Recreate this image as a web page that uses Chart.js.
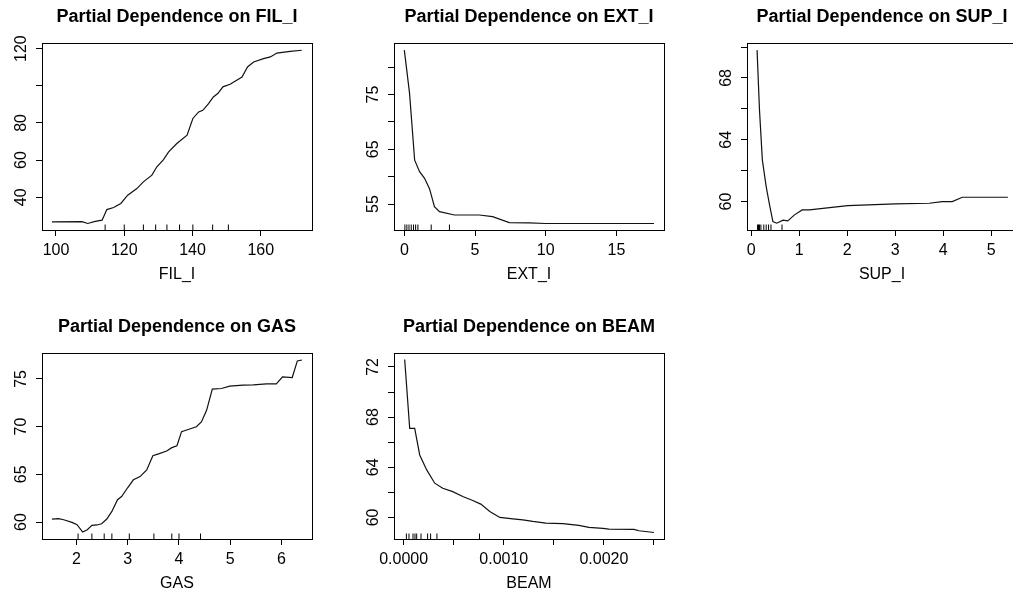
<!DOCTYPE html>
<html>
<head>
<meta charset="utf-8">
<script src="https://cdn.jsdelivr.net/npm/chart.js@4.4.1/dist/chart.umd.min.js"></script>
<style>
  html, body { margin: 0; padding: 0; background: #fff; width: 1013px; height: 595px; overflow: hidden; }
  canvas { position: absolute; }
</style>
</head>
<body>
<canvas id="c1" width="340" height="297" style="left:0px;top:0px"></canvas>
<canvas id="c2" width="340" height="297" style="left:352px;top:0px"></canvas>
<canvas id="c3" width="340" height="297" style="left:705px;top:0px"></canvas>
<canvas id="c4" width="340" height="285" style="left:0px;top:310px"></canvas>
<canvas id="c5" width="340" height="285" style="left:352px;top:310px"></canvas>
<script>
// FIL_I
let filX = [98.8, 107.6, 109.3, 111.5, 113.5, 114.9, 116.9, 119.0, 121.0, 123.7, 125.6, 128.1, 129.5, 131.5, 133.0, 135.4, 138.4, 140.1, 141.8, 143.0, 144.7, 146.1, 147.4, 148.9, 151.0, 154.5, 156.1, 157.9, 160.8, 162.8, 164.7, 168.6, 172.0];
let filY = [26.8, 26.9, 25.9, 27.0, 27.7, 33.4, 34.5, 36.7, 41.1, 44.7, 48.3, 51.9, 56.3, 60.3, 64.4, 68.9, 73.4, 82.4, 85.9, 86.8, 90.4, 94.0, 95.8, 99.4, 100.8, 104.7, 110.1, 112.8, 114.6, 115.5, 117.6, 118.5, 119.1];
let filRug = [114.4, 120.0, 125.6, 129.2, 132.5, 136.2, 140.1, 145.9, 150.5];
let filXTicks = [100, 120, 140, 160];
let filXLabels = ["100", "120", "140", "160"];
let filYTicks = [40, 60, 80, 100, 120];
let filYLabels = ["40", "60", "80", "", "120"];

// EXT_I
let extX = [0, 0.37, 0.73, 1.08, 1.43, 1.78, 2.13, 2.49, 3.54, 5.3, 6.24, 7.42, 8.82, 10.0, 17.65];
let extY = [83.1, 75.2, 63.0, 60.9, 59.7, 57.8, 54.5, 53.6, 53.0, 53.0, 52.7, 51.6, 51.56, 51.45, 51.45];
let extRug = [0.04, 0.18, 0.33, 0.49, 0.65, 0.8, 0.96, 1.9, 3.19];
let extXTicks = [0, 5, 10, 15];
let extXLabels = ["0", "5", "10", "15"];
let extYTicks = [55, 60, 65, 70, 75, 80];
let extYLabels = ["55", "", "65", "", "75", ""];

// SUP_I
let supX = [0.12, 0.17, 0.23, 0.31, 0.38, 0.45, 0.53, 0.66, 0.76, 0.9, 1.06, 1.21, 2.01, 3.01, 3.71, 3.98, 4.19, 4.40, 5.35];
let supY = [69.8, 65.95, 62.7, 60.97, 59.79, 58.7, 58.6, 58.8, 58.75, 59.14, 59.46, 59.46, 59.74, 59.85, 59.89, 60.0, 60.0, 60.28, 60.28];
let supRug = [0.13, 0.15, 0.17, 0.2, 0.26, 0.31, 0.36, 0.41, 0.64];
let supXTicks = [0, 1, 2, 3, 4, 5];
let supXLabels = ["0", "1", "2", "3", "4", "5"];
let supYTicks = [60, 62, 64, 66, 68, 70];
let supYLabels = ["60", "", "64", "", "68", ""];

// GAS
let gasX = [1.52, 1.65, 1.75, 1.91, 2.01, 2.12, 2.21, 2.30, 2.40, 2.49, 2.59, 2.69, 2.80, 2.88, 3.0, 3.11, 3.24, 3.37, 3.49, 3.60, 3.76, 3.86, 3.96, 4.05, 4.18, 4.34, 4.44, 4.54, 4.65, 4.83, 4.99, 5.25, 5.45, 5.71, 5.90, 6.02, 6.21, 6.31, 6.40];
let gasY = [60.32, 60.36, 60.25, 59.97, 59.73, 58.96, 59.2, 59.66, 59.7, 59.83, 60.32, 61.12, 62.34, 62.68, 63.62, 64.43, 64.77, 65.47, 66.96, 67.14, 67.45, 67.8, 68.0, 69.47, 69.7, 69.99, 70.51, 71.73, 73.92, 73.99, 74.24, 74.34, 74.38, 74.48, 74.48, 75.21, 75.14, 76.88, 76.98];
let gasRug = [2.03, 2.30, 2.54, 2.69, 3.03, 3.51, 3.86, 4.0, 4.42];
let gasXTicks = [2, 3, 4, 5, 6];
let gasXLabels = ["2", "3", "4", "5", "6"];
let gasYTicks = [60, 65, 70, 75];
let gasYLabels = ["60", "65", "70", "75"];

// BEAM
let beamX = [0.00001, 0.00006, 0.00011, 0.00016, 0.00023, 0.00031, 0.00039, 0.00049, 0.00059, 0.00069, 0.00077, 0.00086, 0.00096, 0.00109, 0.00119, 0.00129, 0.00142, 0.00159, 0.00175, 0.00185, 0.00199, 0.00205, 0.0023, 0.00235, 0.0025];
let beamY = [72.59, 67.1, 67.1, 64.98, 63.79, 62.73, 62.33, 62.06, 61.67, 61.35, 61.06, 60.47, 60.0, 59.89, 59.81, 59.68, 59.55, 59.5, 59.36, 59.2, 59.12, 59.06, 59.04, 58.94, 58.8];
let beamRug = [0.000027, 0.000053, 0.000093, 0.000113, 0.00013, 0.000173, 0.000239, 0.000269, 0.000332, 0.000757];
let beamXTicks = [0, 0.0005, 0.001, 0.0015, 0.002, 0.0025];
let beamXLabels = ["0.0000", "", "0.0010", "", "0.0020", ""];
let beamYTicks = [60, 62, 64, 66, 68, 70, 72];
let beamYLabels = ["60", "", "64", "", "68", "", "72"];

Chart.defaults.font.family = "'Liberation Sans', Arial, Helvetica, sans-serif";
Chart.defaults.color = "#000";

// draws the full R-style box around the plot region
const boxPlugin = {
  id: "box",
  afterDraw(chart) {
    const a = chart.chartArea;
    const ctx = chart.ctx;
    ctx.save();
    ctx.strokeStyle = "#000";
    ctx.lineWidth = 1;
    ctx.strokeRect(Math.round(a.left) + 0.5, Math.round(a.top) + 0.5, Math.round(a.right - a.left), Math.round(a.bottom - a.top));
    ctx.restore();
  }
};

function makeChart(id, name, xs, ys, rug, xRange, yRange, xTicks, xLabels, yTicks, yLabels, yPad, bottomPad) {
  const line = xs.map((x, i) => ({ x: x, y: ys[i] }));
  const rugPts = rug.map((x) => ({ x: x, y: yRange[0] }));

  new Chart(document.getElementById(id), {
    type: "scatter",
    data: {
      datasets: [
        {
          type: "line",
          data: line,
          borderColor: "#111",
          borderWidth: 1.2,
          pointRadius: 0,
          tension: 0,
          fill: false
        },
        {
          data: rugPts,
          pointStyle: "line",
          rotation: 90,
          radius: 5.5,
          borderColor: "#000",
          borderWidth: 1,
          clip: 0
        }
      ]
    },
    options: {
      responsive: false,
      animation: false,
      events: [],
      layout: { padding: { left: 0, top: 0, right: 28, bottom: bottomPad } },
      plugins: {
        legend: { display: false },
        tooltip: { enabled: false },
        title: {
          display: true,
          text: "Partial Dependence on " + name,
          fullSize: false,
          font: { size: 18, weight: "bold" },
          color: "#000",
          padding: { top: 5.8, bottom: 15.6 }
        }
      },
      scales: {
        x: {
          type: "linear",
          min: xRange[0],
          max: xRange[1],
          afterBuildTicks: (axis) => { axis.ticks = xTicks.map((v) => ({ value: v })); },
          afterFit: (axis) => { axis.height = 54; },
          grid: { drawOnChartArea: false, drawTicks: true, tickLength: 6, color: "#000" },
          border: { display: true, color: "#000" },
          ticks: {
            autoSkip: false,
            maxRotation: 0,
            padding: 5,
            font: { size: 16 },
            color: "#000",
            callback: (v, i) => xLabels[i]
          },
          title: { display: true, text: name, font: { size: 16 }, color: "#000", padding: { top: 0, bottom: 0 } }
        },
        y: {
          type: "linear",
          min: yRange[0],
          max: yRange[1],
          afterBuildTicks: (axis) => { axis.ticks = yTicks.map((v) => ({ value: v })); },
          afterFit: (axis) => { axis.width = 42; },
          grid: { drawOnChartArea: false, drawTicks: true, tickLength: 6, color: "#000" },
          border: { display: true, color: "#000" },
          ticks: {
            autoSkip: false,
            minRotation: 90,
            maxRotation: 90,
            crossAlign: "center",
            padding: yPad,
            font: { size: 16 },
            color: "#000",
            callback: (v, i) => yLabels[i]
          }
        }
      }
    },
    plugins: [boxPlugin]
  });
}

makeChart("c1", "FIL_I", filX, filY, filRug, [95.9, 175.0], [22.4, 123.0], filXTicks, filXLabels, filYTicks, filYLabels, 0.6, 13);
makeChart("c2", "EXT_I", extX, extY, extRug, [-0.73, 18.36], [50.26, 84.4], extXTicks, extXLabels, extYTicks, extYLabels, 5.1, 13);
makeChart("c3", "SUP_I", supX, supY, supRug, [-0.09, 5.54], [58.16, 70.26], supXTicks, supXLabels, supYTicks, supYLabels, 5.1, 13);
makeChart("c4", "GAS", gasX, gasY, gasRug, [1.326, 6.596], [58.23, 77.71], gasXTicks, gasXLabels, gasYTicks, gasYLabels, 5.1, 2);
makeChart("c5", "BEAM", beamX, beamY, beamRug, [-0.0000967, 0.0026], [58.28, 73.11], beamXTicks, beamXLabels, beamYTicks, beamYLabels, 5.1, 2);
</script>
</body>
</html>
